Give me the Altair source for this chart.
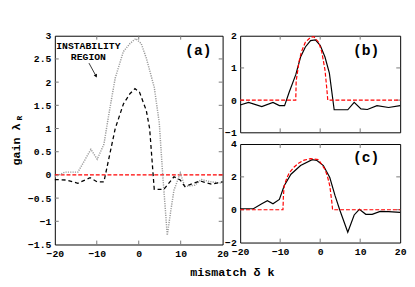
import altair as alt
import pandas as pd

FONT = "Liberation Mono"

# ---------------- data ----------------
# panel (a): dashed black curve
a_dash_x = [-20, -17.3, -14.5, -11.6, -9.9, -8.3, -5.6, -3.65, -2.1, -0.9, 0.2, 1.8, 2.6, 3.7, 6.0, 8.4, 9.9, 11.0, 13.0, 14.6, 17.3, 20]
a_dash_y = [-0.1, -0.11, -0.18, -0.06, -0.15, -0.15, 1.0, 1.53, 1.75, 1.86, 1.78, 1.39, 1.0, -0.31, -0.31, -0.04, -0.11, -0.25, -0.18, -0.13, -0.2, -0.15]
# panel (a): dotted gray curve
a_dot_x = [-20, -17.6, -14.5, -11.4, -9.9, -8.3, -7.1, -5.6, -3.65, -2.1, -0.7, 0.6, 1.8, 3.7, 4.9, 5.7, 6.4, 6.8, 7.6, 8.4, 9.9, 11.0, 13.4, 14.9, 17.3, 20]
a_dot_y = [-0.04, 0.06, 0.06, 0.55, 0.34, 0.66, 1.32, 2.09, 2.66, 2.83, 2.94, 2.83, 2.52, 1.89, 1.12, 0.03, -0.81, -1.3, -0.8, -0.33, 0.04, -0.25, -0.22, -0.1, -0.15, -0.18]
# reference line y = 0
zero_x = [-20, 20]
zero_y = [0, 0]

# panel (b)
b_sim_x = [-20, -17.9, -14.6, -11.8, -10.2, -8.9, -7.8, -6.1, -4.9, -3.7, -2.4, -1.2, 0, 1.2, 2.3, 3.5, 6.9, 8.5, 10.2, 11.8, 14.2, 17.1, 20]
b_sim_y = [-0.15, -0.07, -0.2, -0.07, -0.17, -0.17, 0.23, 0.79, 1.34, 1.65, 1.85, 1.87, 1.7, 1.34, 0.84, -0.3, -0.3, -0.07, -0.27, -0.29, -0.17, -0.23, -0.17]
b_th_x = [-20, -6.1, -6.0, -5.7, -5.3, -4.7, -3.7, -2.4, -1.6, -0.4, 0.4, 1.2, 1.7, 1.9, 20]
b_th_y = [0, 0, 0.6, 0.84, 1.19, 1.5, 1.8, 1.95, 1.97, 1.8, 1.5, 0.94, 0.3, 0, 0]

# panel (c)
c_sim_x = [-20, -16.7, -14.6, -13.2, -11.8, -10.2, -9.0, -7.3, -4.9, -2.0, -0.8, 0.8, 2.4, 3.7, 4.9, 6.9, 8.5, 9.8, 11.4, 13.0, 15.0, 17.1, 20]
c_sim_y = [0.06, 0.06, 0.37, 0.55, 0.36, 0.63, 1.46, 2.16, 2.69, 3.05, 3.0, 2.69, 1.96, 0.87, -0.02, -1.37, -0.32, 0.02, -0.28, -0.28, -0.1, -0.12, -0.16]
c_th_x = [-20, -9.3, -9.2, -9.0, -8.3, -7.7, -6.5, -5.3, -4.0, -2.4, -0.4, 1.2, 1.8, 2.4, 2.9, 3.1, 20]
c_th_y = [0, 0, 0.8, 1.45, 1.95, 2.26, 2.6, 2.85, 3.02, 3.11, 3.05, 2.45, 2.05, 1.46, 0.5, 0, 0]

# axis ticks
x_ticks = [-20, -10, 0, 10, 20]
x_inner = [-10, 0, 10]
a_yticks = [-1.5, -1, -0.5, 0, 0.5, 1, 1.5, 2, 2.5, 3]
b_yticks = [-1, 0, 1, 2]
c_yticks = [-2, 0, 2, 4]

# annotations
ann_text = ["INSTABILITY", "REGION"]
ann_x = [-12.0, -12.0]
ann_y = [2.77, 2.54]
arrow_x = [-11.86, -10.23]
arrow_y = [2.41, 2.14]


def df(xs, ys):
    return pd.DataFrame({"x": xs, "y": ys, "i": list(range(len(xs)))})


def panel(W, H, ydom, yticks, xlabels, layers_spec, label, label_xy, extra=None):
    xenc = alt.X("x:Q", scale=alt.Scale(domain=[-20, 20], nice=False),
                 axis=alt.Axis(values=x_ticks, title=None, format="d", labelFlush=False) if xlabels else None)
    yenc = alt.Y("y:Q", scale=alt.Scale(domain=ydom, nice=False),
                 axis=alt.Axis(values=yticks, title=None, format=".1~f", labelFlush=False))
    layers = []
    # inner ticks
    tx = pd.DataFrame({"x": x_inner})
    ty = pd.DataFrame({"y": [v for v in yticks if v not in (ydom[0], ydom[1])]})
    layers.append(alt.Chart(tx).mark_rule(color="#777", strokeWidth=1).encode(x=xenc, y=alt.value(0), y2=alt.value(4)))
    layers.append(alt.Chart(tx).mark_rule(color="#777", strokeWidth=1).encode(x=xenc, y=alt.value(H), y2=alt.value(H - 4)))
    layers.append(alt.Chart(ty).mark_rule(color="#777", strokeWidth=1).encode(y=yenc, x=alt.value(0), x2=alt.value(4)))
    layers.append(alt.Chart(ty).mark_rule(color="#777", strokeWidth=1).encode(y=yenc, x=alt.value(W), x2=alt.value(W - 4)))
    for d, kw in layers_spec:
        layers.append(alt.Chart(d).mark_line(**kw).encode(x=xenc, y=yenc, order="i:Q"))
    lab = pd.DataFrame({"x": [label_xy[0]], "y": [label_xy[1]], "t": [label]})
    layers.append(alt.Chart(lab).mark_text(font=FONT, fontWeight="bold", fontSize=15, align="center",
                                           baseline="middle", color="black").encode(x=xenc, y=yenc, text="t:N"))
    if extra:
        for e in extra:
            layers.append(e(xenc, yenc))
    return alt.layer(*layers).properties(width=W, height=H)


red = dict(color="#ff0000", strokeDash=[4, 2], strokeWidth=1.2)

# ---- panel (a)
Wa, Ha = 172, 214
ann_df = pd.DataFrame({"x": ann_x, "y": ann_y, "t": ann_text})
arr_df = df(arrow_x, arrow_y)
extra_a = [
    lambda xe, ye: alt.Chart(ann_df).mark_text(font=FONT, fontWeight="bold", fontSize=10, align="center",
                                               baseline="middle", color="black").encode(x=xe, y=ye, text="t:N"),
    lambda xe, ye: alt.Chart(arr_df).mark_line(color="black", strokeWidth=0.8).encode(x=xe, y=ye, order="i:Q"),
    lambda xe, ye: alt.Chart(arr_df.iloc[[1]]).mark_point(shape="triangle", size=14, filled=True, color="black",
                                                          angle=152, opacity=1).encode(x=xe, y=ye),
    lambda xe, ye: alt.Chart(pd.DataFrame({"t": ["gain λ"]})).mark_text(
        font=FONT, fontWeight="bold", fontSize=12, angle=270, align="left", baseline="middle",
        color="black").encode(text="t:N", x=alt.value(-40), y=alt.value(133)),
    lambda xe, ye: alt.Chart(pd.DataFrame({"t": ["R"]})).mark_text(
        font=FONT, fontWeight="bold", fontSize=8, angle=270, align="left", baseline="middle",
        color="black").encode(text="t:N", x=alt.value(-36), y=alt.value(87)),
]
pa = panel(Wa, Ha, [-1.5, 3], a_yticks, True,
           [(df(zero_x, zero_y), red),
            (df(a_dot_x, a_dot_y), dict(color="#9a9a9a", strokeDash=[1.2, 1.2], strokeWidth=1.5)),
            (df(a_dash_x, a_dash_y), dict(color="black", strokeDash=[4, 3], strokeWidth=1.3))],
           "(a)", (14.2, 2.68), extra_a)

# ---- panel (b)
Wb, Hb = 164, 99
pb = panel(Wb, Hb, [-1, 2], b_yticks, False,
           [(df(b_sim_x, b_sim_y), dict(color="black", strokeWidth=1.2)),
            (df(b_th_x, b_th_y), red)],
           "(b)", (11.5, 1.55))

# ---- panel (c)
Wc, Hc = 164, 101
extra_c = [
    lambda xe, ye: alt.Chart(pd.DataFrame({"t": ["mismatch δ k"]})).mark_text(
        font=FONT, fontWeight="bold", fontSize=12, align="center", baseline="middle",
        color="black").encode(text="t:N", x=alt.value(-8), y=alt.value(Hc + 30)),
]
pc = panel(Wc, Hc, [-2, 4], c_yticks, True,
           [(df(c_sim_x, c_sim_y), dict(color="black", strokeWidth=1.2)),
            (df(c_th_x, c_th_y), red)],
           "(c)", (11.5, 3.23), extra_c)

chart = alt.hconcat(
    pa,
    alt.vconcat(pb, pc, spacing=12, bounds="flush"),
    spacing=18, bounds="flush",
).properties(
    padding={"left": 1, "top": 19, "right": 0, "bottom": 0}
).configure_view(
    stroke="black", strokeWidth=1
).configure_axis(
    labelFont=FONT, labelFontWeight="bold", labelFontSize=10, labelColor="black",
    ticks=False, domain=False, grid=False, labelPadding=4, labelOverlap=False,
)

chart.save("out.html", embed_options={"renderer": "svg", "actions": False})
